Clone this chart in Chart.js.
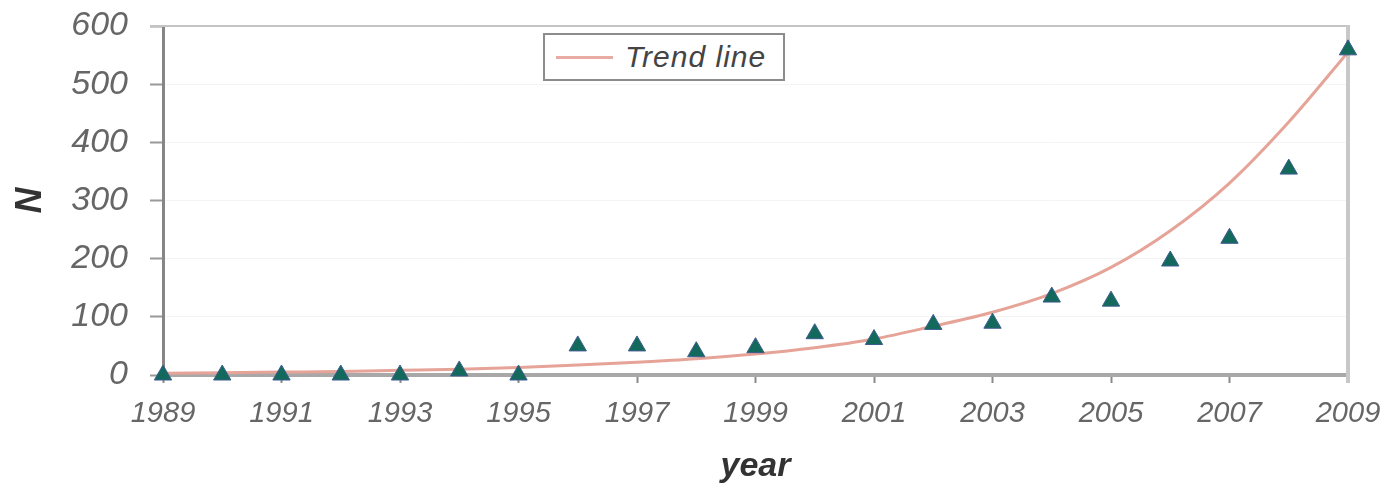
<!DOCTYPE html>
<html>
<head>
<meta charset="utf-8">
<script src="https://cdn.jsdelivr.net/npm/chart.js@4"></script>
<style>
  html, body { margin: 0; padding: 0; background: #fff; }
  #wrap { position: relative; width: 1396px; height: 488px; }
  #legendBox {
    position: absolute; left: 543px; top: 33px; width: 238px; height: 44px;
    border: 2px solid #8c8c8c; background: #fff;
    font-family: "Liberation Sans", Arial, sans-serif; font-style: italic;
    font-size: 30px; color: #444; letter-spacing: 1px;
  }
  #legendBox .sample { position: absolute; left: 11px; top: 21px; width: 57px; height: 3px; background: #e8aca2; }
  #legendBox .label { position: absolute; left: 80px; top: 4px; line-height: 36px; }
</style>
</head>
<body>
<div id="wrap">
  <canvas id="chart" width="1396" height="488"></canvas>
  <div id="legendBox"><div class="sample"></div><div class="label">Trend line</div></div>
</div>
<script>
// values
const years = [1989, 1990, 1991, 1992, 1993, 1994, 1995, 1996, 1997, 1998, 1999,
               2000, 2001, 2002, 2003, 2004, 2005, 2006, 2007, 2008, 2009];
const counts = [0, 0, 0, 0, 0, 7, 0, 50, 50, 40, 47,
                71, 61, 87, 89, 134, 127, 196, 235, 354, 559];
const trend = [3, 4, 5, 6, 8, 10, 13, 17, 22, 28, 36,
               47, 62, 84, 108, 140, 185, 248, 330, 435, 555];
const yTicks = [0, 100, 200, 300, 400, 500, 600];

const labelFont = '"Liberation Sans", Arial, sans-serif';

// top and right frame of the plot area
const frame = {
    id: 'frame',
    beforeDatasetsDraw(chart) {
        const a = chart.chartArea;
        const c = chart.ctx;
        c.save();
        c.strokeStyle = '#c4c4c4';
        c.lineWidth = 2;
        c.beginPath();
        c.moveTo(a.left - 13, a.top);
        c.lineTo(a.right, a.top);
        c.stroke();
        c.strokeStyle = '#c8c8c8';
        c.lineWidth = 4;
        c.beginPath();
        c.moveTo(a.right, a.top - 1);
        c.lineTo(a.right, a.bottom + 8);
        c.stroke();
        c.restore();
    }
};

const ctx = document.querySelector('#chart').getContext('2d');
const chart = new Chart(ctx, {
    data: {
        datasets: [{
            type: 'scatter',
            label: 'N',
            data: years.map((y, i) => ({x: y, y: counts[i]})),
            pointStyle: 'triangle',
            pointRadius: 10,
            backgroundColor: '#13695b',
            borderColor: '#3d5c8f',
            borderWidth: 1,
            clip: false,
            order: 0
        }, {
            type: 'line',
            label: 'Trend line',
            data: years.map((y, i) => ({x: y, y: trend[i]})),
            borderColor: '#e6a397',
            borderWidth: 3,
            pointRadius: 0,
            cubicInterpolationMode: 'monotone',
            order: 1
        }]
    },
    options: {
        responsive: false,
        animation: false,
        layout: { padding: { top: 26, right: 48, left: 0, bottom: 0 } },
        plugins: {
            legend: { display: false },
            tooltip: { enabled: false }
        },
        scales: {
            x: {
                type: 'linear',
                min: 1989,
                max: 2009,
                afterFit: s => { s.height = 113; s.paddingLeft = 0; s.paddingRight = 0; },
                ticks: {
                    stepSize: 2,
                    padding: 14,
                    color: '#666',
                    font: { family: labelFont, size: 29, style: 'italic' },
                    callback: v => String(v)
                },
                grid: { drawOnChartArea: false, tickLength: 8, tickColor: '#8a8a8a', tickWidth: 2 },
                border: { color: '#a8a8a8', width: 4 },
                title: {
                    display: true,
                    text: 'year',
                    color: '#333',
                    font: { family: labelFont, size: 34, style: 'italic', weight: 'bold' },
                    padding: { top: 0, bottom: 1 }
                }
            },
            y: {
                min: 0,
                max: 600,
                afterFit: s => { s.width = 163; s.paddingTop = 0; s.paddingBottom = 0; },
                afterBuildTicks: s => { s.ticks = yTicks.map(v => ({value: v})); },
                ticks: {
                    padding: 22,
                    color: '#666',
                    font: { family: labelFont, size: 34, style: 'italic' }
                },
                grid: { color: '#f4f4f4', tickLength: 13, tickColor: '#999', tickWidth: 2 },
                border: { color: '#868686', width: 3 },
                title: {
                    display: true,
                    text: 'N',
                    color: '#333',
                    font: { family: labelFont, size: 36, style: 'italic', weight: 'bold' },
                    padding: { top: 9, bottom: 0 }
                }
            }
        }
    },
    plugins: [frame]
});
</script>
</body>
</html>
